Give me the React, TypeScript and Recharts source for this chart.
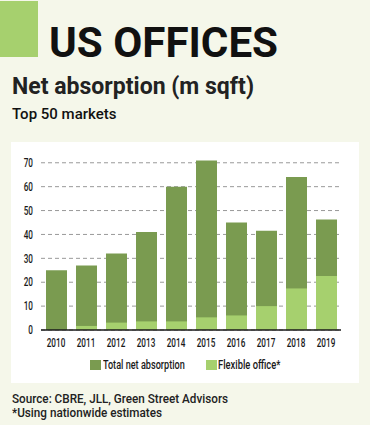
import React from "react";
import { BarChart, Bar, XAxis, YAxis, CartesianGrid, Legend } from "recharts";

const years = ["2010", "2011", "2012", "2013", "2014", "2015", "2016", "2017", "2018", "2019"];
const totalNetAbsorption = [25, 27, 32, 41, 60, 71, 45, 41.5, 64, 46.3];
const flexibleOffice = [0, 1.7, 3.1, 3.6, 3.6, 5.3, 6.1, 10, 17.4, 22.6];
const yTicks = [0, 10, 20, 30, 40, 50, 60, 70];

const DARK = "#7a9b50";
const LIGHT = "#a6d06e";
const BG = "#f5f7ea";
const FONT = "Roboto, 'Noto Sans', sans-serif";

const data = years.map((y, i) => ({
  year: y,
  total: totalNetAbsorption[i],
  flex: flexibleOffice[i],
}));

const XTick = (props: any) => {
  const { x, y, payload } = props;
  return (
    <text
      x={0}
      y={0}
      dy="0.71em"
      transform={`translate(${x},${y}) scale(0.68,1)`}
      textAnchor="middle"
      fill="#1a1a1a"
      fontSize={12}
      fontWeight={500}
      fontFamily={FONT}
    >
      {payload.value}
    </text>
  );
};

const YTick = (props: any) => {
  const { x, y, payload } = props;
  return (
    <text
      x={0}
      y={0}
      dy="0.355em"
      transform={`translate(${x},${y}) scale(0.68,1)`}
      textAnchor="end"
      fill="#1a1a1a"
      fontSize={12}
      fontWeight={500}
      fontFamily={FONT}
    >
      {payload.value}
    </text>
  );
};

const LegendLabel = ({ text, width, scale }: { text: string; width: number; scale: number }) => (
  <span
    style={{
      display: "inline-block",
      width,
      minWidth: width,
      flexShrink: 0,
      whiteSpace: "nowrap",
      overflow: "visible",
      height: 12,
      position: "relative",
    }}
  >
    <span
      style={{
        position: "absolute",
        left: 0,
        top: 0,
        display: "inline-block",
        transform: `scaleX(${scale})`,
        transformOrigin: "left center",
        fontSize: 12,
        fontWeight: 500,
        fontFamily: FONT,
        color: "#1a1a1a",
        lineHeight: "12px",
        whiteSpace: "nowrap",
      }}
    >
      {text}
    </span>
  </span>
);

const LegendContent = () => (
  <div
    style={{
      height: 29,
      display: "flex",
      justifyContent: "center",
      alignItems: "flex-start",
      paddingTop: 5,
      paddingLeft: 12,
      boxSizing: "border-box",
    }}
  >
    <div style={{ display: "flex", alignItems: "center", flexShrink: 0 }}>
      <span style={{ width: 11, height: 10, background: DARK, display: "inline-block", marginRight: 2, flexShrink: 0 }} />
      <LegendLabel text="Total net absorption" width={76} scale={0.76} />
    </div>
    <div style={{ display: "flex", alignItems: "center", marginLeft: 27, flexShrink: 0 }}>
      <span style={{ width: 11, height: 10, background: LIGHT, display: "inline-block", marginRight: 1, flexShrink: 0 }} />
      <LegendLabel text="Flexible office*" width={57} scale={0.78} />
    </div>
  </div>
);

export default function App() {
  return (
    <div
      style={{
        position: "absolute",
        left: 0,
        top: 0,
        width: 370,
        height: 425,
        background: BG,
        overflow: "hidden",
        fontFamily: FONT,
      }}
    >
      <div style={{ position: "absolute", left: 0, top: 1, width: 38, height: 56, background: LIGHT }} />
      <div
        style={{
          position: "absolute",
          left: 49,
          top: 21,
          fontSize: 43,
          lineHeight: "43px",
          fontWeight: 700,
          color: "#111",
          whiteSpace: "nowrap",
          transform: "scaleX(0.98)",
          transformOrigin: "left top",
        }}
      >
        US OFFICES
      </div>
      <div
        style={{
          position: "absolute",
          left: 12,
          top: 74,
          fontSize: 24,
          lineHeight: "24px",
          fontWeight: 700,
          color: "#222",
          whiteSpace: "nowrap",
          transform: "scaleX(0.96)",
          transformOrigin: "left top",
        }}
      >
        Net absorption (m sqft)
      </div>
      <div
        style={{
          position: "absolute",
          left: 12,
          top: 107,
          fontSize: 15,
          lineHeight: "15px",
          fontWeight: 500,
          color: "#111",
          whiteSpace: "nowrap",
        }}
      >
        Top 50 markets
      </div>
      <div style={{ position: "absolute", left: 11, top: 142, width: 348, height: 241, background: "#fff" }}>
        <BarChart
          width={348}
          height={241}
          data={data}
          margin={{ top: 16, right: 18, left: 0, bottom: 0 }}
          barGap={-21}
          barSize={21}
          barCategoryGap={0}
        >
          <CartesianGrid vertical={false} stroke="#999" strokeDasharray="4 3" horizontalValues={yTicks} />
          <XAxis
            dataKey="year"
            tickLine={false}
            axisLine={{ stroke: "#1a1a1a", strokeWidth: 1.5 }}
            tick={<XTick />}
            interval={0}
            height={24}
          />
          <YAxis
            width={30}
            domain={[0, 72]}
            ticks={yTicks}
            tickLine={false}
            axisLine={false}
            tick={<YTick />}
            interval={0}
          />
          <Legend verticalAlign="bottom" content={<LegendContent />} />
          <Bar dataKey="total" name="Total net absorption" fill={DARK} isAnimationActive={false} />
          <Bar dataKey="flex" name="Flexible office*" fill={LIGHT} isAnimationActive={false} />
        </BarChart>
      </div>
      <div
        style={{
          position: "absolute",
          left: 12,
          top: 392,
          fontSize: 13,
          lineHeight: "14px",
          fontWeight: 500,
          color: "#222",
          whiteSpace: "nowrap",
          transform: "scaleX(0.9)",
          transformOrigin: "left top",
        }}
      >
        <div>Source: CBRE, JLL, Green Street Advisors</div>
        <div>*Using nationwide estimates</div>
      </div>
    </div>
  );
}
